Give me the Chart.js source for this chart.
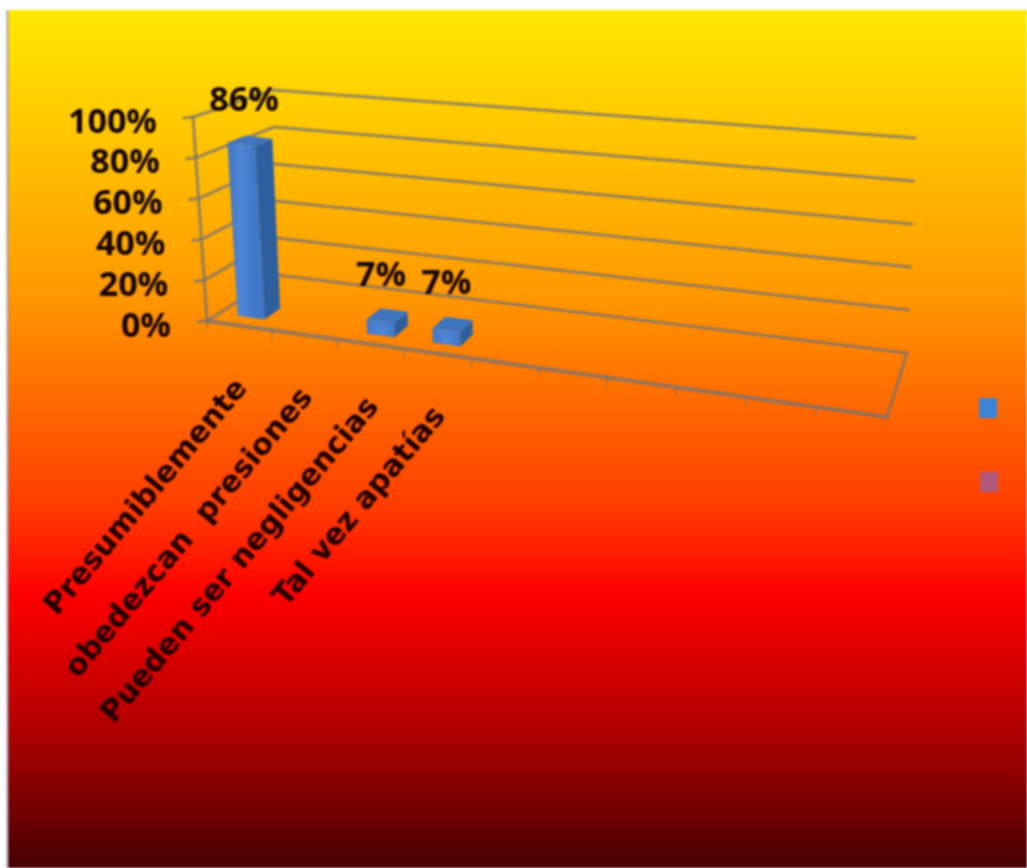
<!DOCTYPE html>
<html><head><meta charset="utf-8">
<style>html,body{margin:0;padding:0;background:#fff;overflow:hidden}canvas{display:block;filter:blur(1px)}</style>
<script src="https://cdn.jsdelivr.net/npm/chart.js@4"></script></head>
<body><div style="width:1027px;height:868px"><canvas id="c" width="1027" height="868"></canvas></div>
<script>
const categories = ["Presumiblemente","obedezcan  presiones","Pueden ser negligencias","Tal vez apatías","","","","","",""];
const seriesA = [86,null,7,7,null,null,null,null,null,null];
const seriesB = [null,null,null,null,null,null,null,null,null,null];
const FONT = '"Open Sans", "DejaVu Sans", sans-serif';
const LABEL_FONT = '"DejaVu Sans", sans-serif';
const INK = '#160400';

// Where the chart's plot rectangle lands in the 3D view
const frontBL=[207,321], frontBR=[887,417], frontTL=[193,117], frontTR=[895,202];
const backBL=[278,275], backBR=[907,353], backTL=[273,90], backTR=[915,138];
const lerp=(a,b,t)=>[a[0]+(b[0]-a[0])*t,a[1]+(b[1]-a[1])*t];
const warp=u=>u/(u+1.05*(1-u));
function proj(chart,px,py,d){
  const a=chart.chartArea;
  const u=warp((px-a.left)/(a.right-a.left)), v=(a.bottom-py)/(a.bottom-a.top);
  const f=lerp(lerp(frontBL,frontBR,u),lerp(frontTL,frontTR,u),v);
  const b=lerp(lerp(backBL,backBR,u),lerp(backTL,backTR,u),v);
  return lerp(f,b,d);
}
function line(ctx,p){ctx.beginPath();p.forEach((q,i)=>i?ctx.lineTo(q[0],q[1]):ctx.moveTo(q[0],q[1]));ctx.stroke();}
function poly(ctx,p,fill){ctx.beginPath();p.forEach((q,i)=>i?ctx.lineTo(q[0],q[1]):ctx.moveTo(q[0],q[1]));ctx.closePath();ctx.fillStyle=fill;ctx.fill();}

const scene={
  id:'scene',
  beforeDraw(chart){
    const c=chart.ctx;
    const g=c.createLinearGradient(0,10,0,868);
    g.addColorStop(0,'#ffe900');g.addColorStop(0.33,'#ff9900');g.addColorStop(0.58,'#ff3c00');
    g.addColorStop(0.68,'#ff0000');g.addColorStop(0.85,'#aa0000');g.addColorStop(1,'#460000');
    c.fillStyle=g;c.fillRect(8,10,1019,858);
    c.fillStyle='rgba(120,110,140,.45)';c.fillRect(6,10,3,858);
  },
  beforeDatasetsDraw(chart){
    const c=chart.ctx,x=chart.scales.x,y=chart.scales.y,a=chart.chartArea;
    c.save();c.lineCap='round';
    c.strokeStyle='rgba(125,115,110,.8)';c.lineWidth=3;
    y.ticks.forEach(t=>{
      const py=y.getPixelForValue(t.value);
      const f=proj(chart,a.left,py,0),b=proj(chart,a.left,py,1),r=proj(chart,a.right,py,1);
      line(c,[[f[0]-9,f[1]+1],f,b,r]);
    });
    line(c,[proj(chart,a.left,a.top,0),proj(chart,a.left,a.bottom,0)]);
    c.lineWidth=4;
    line(c,[proj(chart,a.left,a.bottom,0),proj(chart,a.right,a.bottom,0)]);
    c.lineWidth=3;
    line(c,[proj(chart,a.right,a.bottom,0),proj(chart,a.right,a.bottom,1)]);
    c.lineWidth=1.4;
    categories.forEach((_,i)=>{
      const q=proj(chart,a.left+(a.right-a.left)*i/categories.length,a.bottom,0);
      line(c,[q,[q[0],q[1]+8]]);
    });
    c.restore();
  },
  beforeDatasetDraw(chart,args){
    const meta=args.meta,c=chart.ctx,ds=chart.data.datasets[args.index];
    meta.data.forEach((el,i)=>{
      if(ds.data[i]==null) return;
      const p=el.getProps(['x','y','base','width'],true);
      const L=p.x-p.width/2,R=p.x+p.width/2,d0=.17,d1=.4;
      const fbl=proj(chart,L,p.base,d0),fbr=proj(chart,R,p.base,d0),ftl=proj(chart,L,p.y,d0),ftr=proj(chart,R,p.y,d0);
      const bbr=proj(chart,R,p.base,d1),btr=proj(chart,R,p.y,d1),btl=proj(chart,L,p.y,d1);
      poly(c,[fbr,bbr,btr,ftr],'#2d5f9f');
      poly(c,[ftl,ftr,btr,btl],'#3f74bf');
      const g=c.createLinearGradient(ftl[0],0,ftr[0],0);
      g.addColorStop(0,'#4277c6');g.addColorStop(.5,'#4f86d6');g.addColorStop(1,'#3f78c8');
      poly(c,[fbl,fbr,ftr,ftl],g);
    });
    return false;
  },
  afterDraw(chart){
    const c=chart.ctx,x=chart.scales.x,y=chart.scales.y,a=chart.chartArea;
    c.save();c.fillStyle=INK;c.textBaseline='middle';
    // value axis labels
    c.font='bold 34px '+FONT;c.textAlign='right';
    y.ticks.forEach(t=>{
      const q=proj(chart,a.left,y.getPixelForValue(t.value),0);
      c.fillText(t.label,q[0]-36,q[1]+6);
    });
    // bar value labels
    c.textAlign='center';
    const meta=chart.getDatasetMeta(0);
    seriesA.forEach((v,i)=>{
      if(v==null) return;
      const el=meta.data[i];
      const q=proj(chart,el.x,el.y,.3);
      c.fillText(v+'%',q[0]-7,q[1]-39);
    });
    // category labels
    c.font='bold 30px '+LABEL_FONT;c.textAlign='right';c.fillStyle='#1e0000';
    categories.forEach((s,i)=>{
      if(!s) return;
      const q=proj(chart,x.getPixelForValue(i),a.bottom,0);
      c.save();c.translate(q[0]+3,q[1]+58);c.rotate(-50*Math.PI/180);
      c.fillText(s,0,0);c.restore();
    });
    // legend swatches (no label text in the reference)
    [[988,408],[989,482]].forEach((m,i)=>{
      c.fillStyle=chart.data.datasets[i].backgroundColor;
      c.fillRect(m[0]-9,m[1]-10,18,20);
    });
    c.restore();
  }
};
new Chart(document.getElementById('c'),{
  type:'bar',
  data:{labels:categories,datasets:[
    {label:'',data:seriesA,backgroundColor:'#3b84d8'},
    {label:'',data:seriesB,backgroundColor:'#b0587a'}
  ]},
  options:{
    responsive:false,animation:false,
    layout:{padding:{left:200,right:130,top:110,bottom:440}},
    plugins:{legend:{display:false},tooltip:{enabled:false}},
    scales:{
      x:{stacked:false,grid:{display:false},border:{display:false},ticks:{display:false,autoSkip:false}},
      y:{min:0,max:100,grid:{display:false},border:{display:false},
         ticks:{display:false,stepSize:20,callback:v=>v+'%'}}
    },
    datasets:{bar:{grouped:false,barPercentage:.42,categoryPercentage:1}}
  },
  plugins:[scene]
});
</script></body></html>
